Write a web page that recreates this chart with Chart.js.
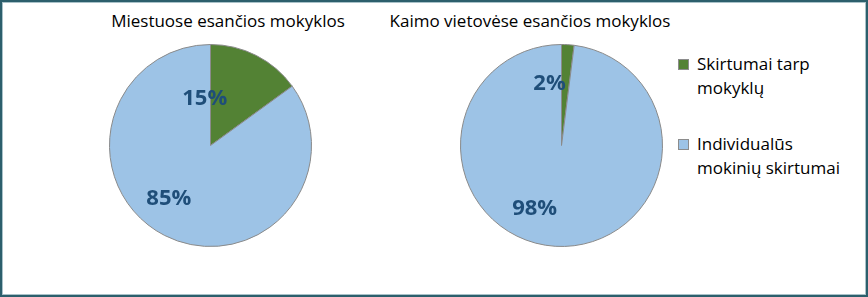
<!DOCTYPE html>
<html>
<head>
<meta charset="utf-8">
<script src="https://cdn.jsdelivr.net/npm/chart.js@4.4.1/dist/chart.umd.min.js"></script>
<style>
  html, body { margin: 0; padding: 0; background: #ffffff; }
  #frame {
    position: absolute; left: 0; top: 0; width: 868px; height: 297px;
    box-sizing: border-box; border: 2px solid #2c5f6c;
    box-shadow: inset 1px 1px 0 #a9c2c9, inset -1px -1px 0 #a9c2c9;
    background: #ffffff; overflow: hidden;
    font-family: "Open Sans", "Liberation Sans", sans-serif; color: #000;
  }
  .pie { position: absolute; }
  .title {
    position: absolute; width: 360px; text-align: center;
    font-size: 17px; line-height: 22px; white-space: nowrap;
  }
  #legend { position: absolute; left: 676px; top: 50px; }
  .item { position: relative; padding-left: 19px; font-size: 17px; line-height: 24px; margin-bottom: 32px; }
  .swatch {
    position: absolute; left: 0; top: 7px; width: 9px; height: 9px;
    border: 1px solid #8c8c8c;
  }
</style>
</head>
<body>
<div id="frame">
  <div class="title" id="t0" style="left:46px; top:8px;"></div>
  <div class="title" id="t1" style="left:348px; top:8px;"></div>
  <canvas class="pie" id="pie0" width="203" height="203" style="left:107px; top:42px;"></canvas>
  <canvas class="pie" id="pie1" width="203" height="203" style="left:458px; top:42px;"></canvas>
  <div id="legend"></div>
</div>
<script>
// Share of variance in results: between schools vs. between individual students
const categories = [['Skirtumai tarp', 'mokyklų'], ['Individualūs', 'mokinių skirtumai']];
const chartTitles = ['Miestuose esančios mokyklos', 'Kaimo vietovėse esančios mokyklos'];
const urbanShares = [15, 85];
const ruralShares = [2, 98];

const sliceColors = ['#538234', '#9dc3e6'];
const sliceBorder = '#8a8a8a';
const labelColor = '#1f4e79';

// Where each percentage label sits: angle clockwise from 12 o'clock (deg), distance as fraction of radius
const urbanLabelSpots = [{ angle: -7, dist: 0.47 }, { angle: 218, dist: 0.67 }];
const ruralLabelSpots = [{ angle: -11, dist: 0.62 }, { angle: 203, dist: 0.68 }];

const percentLabels = {
  id: 'percentLabels',
  afterDatasetsDraw(chart, args, opts) {
    const ctx = chart.ctx;
    const meta = chart.getDatasetMeta(0);
    const values = chart.data.datasets[0].data;
    ctx.save();
    ctx.font = 'bold 22px "Open Sans", sans-serif';
    ctx.fillStyle = labelColor;
    ctx.textAlign = 'center';
    ctx.textBaseline = 'middle';
    meta.data.forEach((arc, i) => {
      const spot = opts.spots[i];
      const a = spot.angle * Math.PI / 180;
      const r = arc.outerRadius * spot.dist;
      const x = arc.x + Math.sin(a) * r;
      const y = arc.y - Math.cos(a) * r;
      ctx.fillText(values[i] + '%', x, y);
    });
    ctx.restore();
  }
};

function makePie(canvasId, values, spots) {
  return new Chart(document.getElementById(canvasId), {
    type: 'pie',
    data: {
      labels: categories.map(l => l.join(' ')),
      datasets: [{
        data: values,
        backgroundColor: sliceColors,
        borderColor: sliceBorder,
        borderWidth: 1
      }]
    },
    options: {
      responsive: false,
      animation: false,
      layout: { padding: 0 },
      plugins: {
        legend: { display: false },
        tooltip: { enabled: false },
        percentLabels: { spots: spots }
      }
    },
    plugins: [percentLabels]
  });
}

document.getElementById('t0').textContent = chartTitles[0];
document.getElementById('t1').textContent = chartTitles[1];
makePie('pie0', urbanShares, urbanLabelSpots);
makePie('pie1', ruralShares, ruralLabelSpots);

// Legend built from the category names and slice colours
const legend = document.getElementById('legend');
categories.forEach((lines, i) => {
  const item = document.createElement('div');
  item.className = 'item';
  const sw = document.createElement('span');
  sw.className = 'swatch';
  sw.style.background = sliceColors[i];
  item.appendChild(sw);
  lines.forEach(line => {
    const d = document.createElement('div');
    d.textContent = line;
    item.appendChild(d);
  });
  legend.appendChild(item);
});
</script>
</body>
</html>
